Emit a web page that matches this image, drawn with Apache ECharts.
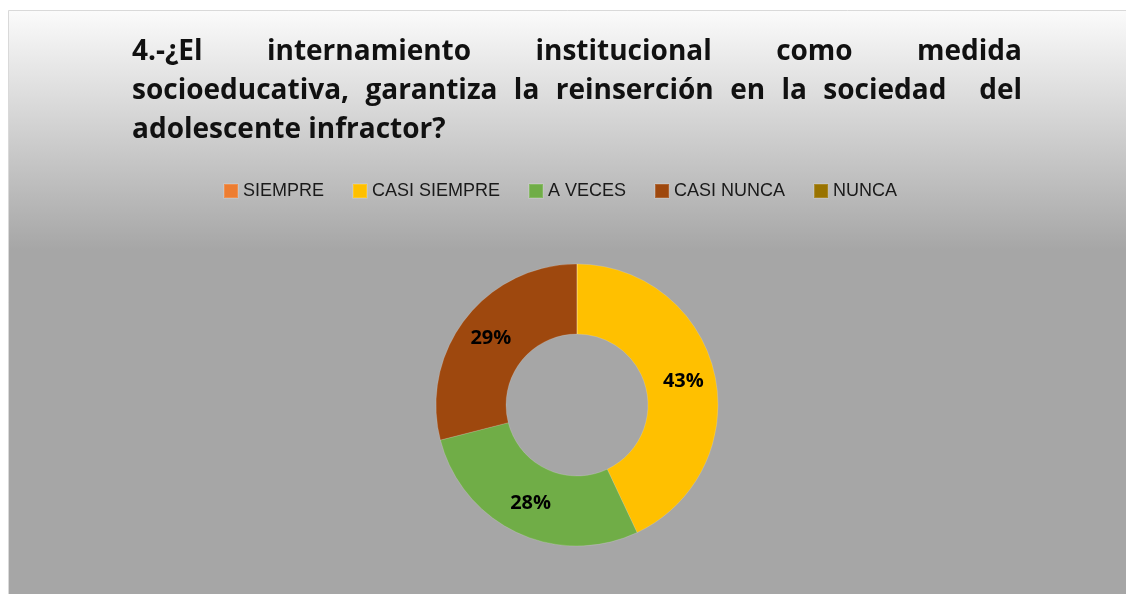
<!DOCTYPE html>
<html>
<head>
<meta charset="utf-8">
<script src="https://cdn.jsdelivr.net/npm/echarts@6/dist/echarts.min.js"></script>
<style>
  html, body { margin: 0; padding: 0; background: #fff; }
  #chart { width: 1126px; height: 594px; }
</style>
</head>
<body>
<div id="chart"></div>
<script>
const categories = ['SIEMPRE', 'CASI SIEMPRE', 'A VECES', 'CASI NUNCA', 'NUNCA']
const values = [0, 43, 28, 29, 0]
const colors = ['#ED7D31', '#FFC000', '#70AD47', '#9E480E', '#997300']
const titleLines = [
  ['4.-¿El', 'internamiento', 'institucional', 'como', 'medida'],
  ['socioeducativa,', 'garantiza', 'la', 'reinserción', 'en', 'la', 'sociedad', '', 'del'],
  ['adolescente infractor?'],
]

const titleFont = 'bold 28px "Open Sans"'
const ctx = document.createElement('canvas').getContext('2d')
ctx.font = titleFont

// justified title lines, last one left aligned
const buildTitle = () => {
  const left = 132
  const right = 1022
  const tops = [38, 77, 116]
  const elements = []
  titleLines.forEach((words, li) => {
    const y = tops[li]
    if (li === titleLines.length - 1) {
      elements.push({
        type: 'text',
        style: { text: words.join(' '), x: left, y, font: titleFont, fill: '#111', verticalAlign: 'top' },
      })
      return
    }
    const widths = words.map(w => ctx.measureText(w).width)
    const total = widths.reduce((a, b) => a + b, 0)
    const gap = (right - left - total) / (words.length - 1)
    let x = left
    words.forEach((w, i) => {
      if (w) {
        elements.push({
          type: 'text',
          style: { text: w, x, y, font: titleFont, fill: '#111', verticalAlign: 'top' },
        })
      }
      x += widths[i] + gap
    })
  })
  return elements
}

const chart = echarts.init(document.getElementById('chart'))

const option = {
  animation: false,
  color: colors,
  graphic: [
    {
      type: 'rect',
      z: -10,
      shape: { x: 8.5, y: 10.5, width: 1130, height: 600 },
      style: {
        stroke: '#d9d9d9',
        lineWidth: 1,
        fill: new echarts.graphic.LinearGradient(0, 0, 0, 1, [
          { offset: 0, color: '#fbfbfb' },
          { offset: 0.4, color: '#a6a6a6' },
          { offset: 1, color: '#a6a6a6' },
        ]),
      },
    },
    ...buildTitle(),
  ],
  legend: {
    data: categories,
    left: 218,
    top: 177,
    itemWidth: 14,
    itemHeight: 14,
    itemGap: 28,
    icon: 'rect',
    textStyle: {
      fontFamily: 'Liberation Sans',
      fontSize: 18,
      color: '#1a1a1a',
    },
  },
  series: [
    {
      type: 'pie',
      center: [577, 405],
      radius: [71, 141],
      startAngle: 90,
      clockwise: true,
      data: categories.map((name, i) => ({ name, value: values[i] })),
      itemStyle: {
        borderColor: 'rgba(255,255,255,0.15)',
        borderWidth: 1,
      },
      label: {
        show: true,
        position: 'inside',
        fontFamily: '"Open Sans"',
        fontWeight: 'bold',
        fontSize: 20,
        color: '#000',
        formatter: (p) => (p.value === 0 ? '' : Math.round(p.percent) + '%'),
      },
      labelLine: { show: false },
      emphasis: { disabled: true },
    },
  ],
}

chart.setOption(option)
</script>
</body>
</html>
